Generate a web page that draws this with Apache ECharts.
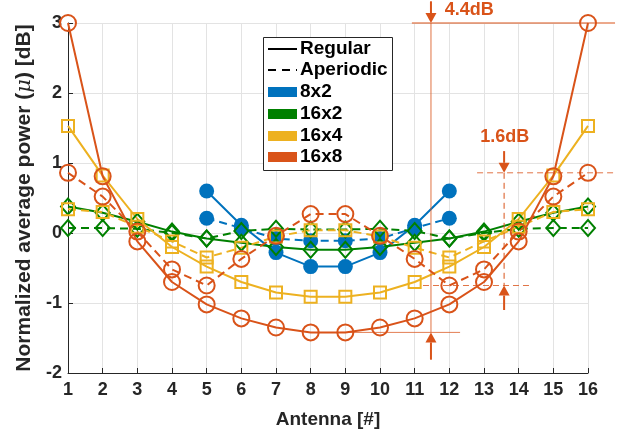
<!DOCTYPE html>
<html><head><meta charset="utf-8">
<script src="https://cdn.jsdelivr.net/npm/echarts@6/dist/echarts.min.js"></script>
<style>html,body{margin:0;padding:0;background:#fff}#c{width:625px;height:437px}</style>
</head><body><div id="c"></div>
<script>
const antennas = [1,2,3,4,5,6,7,8,9,10,11,12,13,14,15,16];
const xTicks = [1,2,3,4,5,6,7,8,9,10,11,12,13,14,15,16];
const yTicks = [-2,-1,0,1,2,3];
const reg8x2  = [null,null,null,null,0.60,0.11,-0.28,-0.48,-0.48,-0.28,0.11,0.60,null,null,null,null];
const ap8x2   = [null,null,null,null,0.21,0.07,-0.08,-0.11,-0.11,-0.08,0.07,0.21,null,null,null,null];
const reg16x2 = [0.38,0.29,0.16,0.02,-0.08,-0.14,-0.20,-0.24,-0.24,-0.20,-0.14,-0.08,0.02,0.16,0.29,0.38];
const ap16x2  = [0.07,0.07,0.06,0.00,-0.08,0.03,0.06,0.05,0.05,0.06,0.03,-0.08,0.00,0.06,0.07,0.07];
const reg16x4 = [1.53,0.82,0.20,-0.20,-0.48,-0.70,-0.85,-0.91,-0.91,-0.85,-0.70,-0.48,-0.20,0.20,0.82,1.53];
const ap16x4  = [0.34,0.30,0.09,-0.12,-0.35,-0.21,-0.05,0.04,0.04,-0.05,-0.21,-0.35,-0.12,0.09,0.30,0.34];
const reg16x8 = [3.00,0.81,-0.12,-0.70,-1.02,-1.22,-1.35,-1.42,-1.42,-1.35,-1.22,-1.02,-0.70,-0.12,0.81,3.00];
const ap16x8  = [0.86,0.52,0.02,-0.52,-0.75,-0.37,-0.04,0.27,0.27,-0.04,-0.37,-0.75,-0.52,0.02,0.52,0.86];
const legendNames = ['Regular','Aperiodic','8x2','16x2','16x4','16x8'];

const C = {b:'#0072BD', g:'#008000', y:'#EDB120', o:'#D95319', t:'#262626'};
const FONT = 'Liberation Sans, Arial, sans-serif';

function pts(arr){ return antennas.map((a,i)=>[a,arr[i]]).filter(p=>p[1]!==null); }
function ser(name, arr, color, dashed, symbol, size, filled){
  return {
    name, type:'line', data: pts(arr), symbol, symbolSize:size, showSymbol:true,
    lineStyle:{color, width:2, type: dashed ? [8,5] : 'solid'},
    itemStyle:{color: filled ? color : 'rgba(0,0,0,0)', borderColor: color, borderWidth: filled?0:2},
    emphasis:{disabled:true}, z: 3, clip:false
  };
}

const chart = echarts.init(document.getElementById('c'), null, {renderer:'canvas'});
chart.setOption({
  animation:false,
  backgroundColor:'#fff',
  grid:{left:68, right:37, top:23, bottom:64},
  xAxis:{type:'value', min:1, max:16, interval:1,
    axisLine:{show:true, onZero:false, lineStyle:{color:C.t, width:1}},
    axisTick:{show:true, inside:true, length:5, lineStyle:{color:C.t}},
    axisLabel:{color:C.t, fontSize:18, fontWeight:'bold', fontFamily:FONT, margin:8,
      formatter:v=> xTicks.includes(v) ? String(v) : ''},
    splitLine:{show:true, lineStyle:{color:'#e3e3e3', width:1}},
    name:'Antenna [#]', nameLocation:'middle', nameGap:37,
    nameTextStyle:{color:C.t, fontSize:19, fontWeight:'bold', fontFamily:FONT}
  },
  yAxis:{type:'value', min:-2, max:3, interval:1,
    axisLine:{show:true, onZero:false, lineStyle:{color:C.t, width:1}},
    axisTick:{show:true, inside:true, length:5, lineStyle:{color:C.t}},
    axisLabel:{color:C.t, fontSize:18, fontWeight:'bold', fontFamily:FONT, margin:6,
      formatter:v=> yTicks.includes(v) ? String(v) : ''},
    splitLine:{show:true, lineStyle:{color:'#e3e3e3', width:1}},
    name:'Normalized average power ({mu|μ}) [dB]', nameLocation:'middle', nameGap:31, nameRotate:90,
    nameTextStyle:{color:C.t, fontSize:21, fontWeight:'bold', fontFamily:FONT,
      rich:{mu:{fontStyle:'italic', fontWeight:'normal', fontSize:21, fontFamily:'DejaVu Serif, serif', color:C.t}}}
  },
  series:[
    ser('8x2 Regular', reg8x2, C.b, false, 'circle', 15, true),
    ser('8x2 Aperiodic', ap8x2, C.b, true, 'circle', 15, true),
    ser('16x2 Regular', reg16x2, C.g, false, 'diamond', [14,16], false),
    ser('16x2 Aperiodic', ap16x2, C.g, true, 'diamond', [14,16], false),
    ser('16x4 Regular', reg16x4, C.y, false, 'rect', 12, false),
    ser('16x4 Aperiodic', ap16x4, C.y, true, 'rect', 12, false),
    ser('16x8 Regular', reg16x8, C.o, false, 'circle', 16, false),
    ser('16x8 Aperiodic', ap16x8, C.o, true, 'circle', 16, false)
  ]
});

function P(x,y){ return chart.convertToPixel({gridIndex:0},[x,y]); }
function arrowEls(x, yFrom, yTo, color){
  const a = P(x,yFrom), b = P(x,yTo);
  const dir = b[1] > a[1] ? 1 : -1;
  const hl = 10, hw = 5.5;
  return [
    {type:'line', shape:{x1:a[0],y1:a[1],x2:b[0],y2:b[1]-dir*hl}, style:{stroke:color, lineWidth:2}, z:10},
    {type:'polygon', shape:{points:[[b[0],b[1]],[b[0]-hw,b[1]-dir*hl],[b[0]+hw,b[1]-dir*hl]]}, style:{fill:color}, z:10}
  ];
}
function lineEl(x1,y1,x2,y2,style){
  const a=P(x1,y1), b=P(x2,y2);
  return {type:'line', shape:{x1:a[0],y1:a[1],x2:b[0],y2:b[1]}, style:Object.assign({lineWidth:1},style), z:9};
}

const maxR = Math.max(...reg16x8), minR = Math.min(...reg16x8);
const maxA = Math.max(...ap16x8), minA = Math.min(...ap16x8);
const xA = 11.47, xB = 13.58;
const g = [];
// 4.4 dB annotation
g.push(lineEl(xA, maxR, xA, minR, {stroke:'rgba(217,83,25,0.55)', lineWidth:1.5}));
g.push(lineEl(10.92, maxR, 16.78, maxR, {stroke:C.o, lineWidth:1}));
g.push(lineEl(8.85, minR, 12.31, minR, {stroke:'rgba(217,83,25,0.75)', lineWidth:1}));
g.push(...arrowEls(xA, 3.31, maxR, C.o));
g.push(...arrowEls(xA, -1.81, minR, C.o));
let t1 = P(11.87, 3.19);
g.push({type:'text', x:t1[0], y:t1[1], style:{text:(maxR-minR).toFixed(1)+'dB', fill:C.o, font:'bold 18px '+FONT, textAlign:'left', textVerticalAlign:'middle'}, z:10});
// 1.6 dB annotation
g.push(lineEl(xB, maxA, xB, minA, {stroke:C.o, lineWidth:1, lineDash:[6,4]}));
g.push(lineEl(12.8, maxA, 16.78, maxA, {stroke:'rgba(217,83,25,0.8)', lineWidth:1, lineDash:[6,4]}));
g.push(lineEl(11.24, minA, 14.33, minA, {stroke:'rgba(217,83,25,0.8)', lineWidth:1, lineDash:[6,4]}));
g.push(...arrowEls(xB, 1.17, maxA, C.o));
g.push(...arrowEls(xB, -1.10, minA, C.o));
let t2 = P(13.6, 1.37);
g.push({type:'text', x:t2[0], y:t2[1], style:{text:(maxA-minA).toFixed(1)+'dB', fill:C.o, font:'bold 18px '+FONT, textAlign:'center', textVerticalAlign:'middle'}, z:10});

// Legend box
const L = {x:263, y:37, w:129, h:133};
g.push({type:'rect', shape:{x:L.x+0.5, y:L.y+0.5, width:L.w, height:L.h}, style:{fill:'#fff', stroke:C.t, lineWidth:1}, z:20});
const rows = [49, 70, 92, 114, 136, 157];
const legColors = [null, null, C.b, C.g, C.y, C.o];
legendNames.forEach((n,i)=>{
  const y = rows[i];
  if(i===0){
    g.push({type:'line', shape:{x1:268,y1:y,x2:297,y2:y}, style:{stroke:'#000', lineWidth:2}, z:21});
  } else if(i===1){
    g.push({type:'line', shape:{x1:268,y1:y,x2:297,y2:y}, style:{stroke:'#000', lineWidth:2, lineDash:[8,6]}, z:21});
  } else {
    g.push({type:'rect', shape:{x:268, y:y-5, width:29, height:10}, style:{fill:legColors[i]}, z:21});
  }
  g.push({type:'text', x:300, y:y, style:{text:n, fill:'#000', font:'bold 19px '+FONT, textAlign:'left', textVerticalAlign:'middle'}, z:21});
});
chart.setOption({graphic:g});
</script></body></html>
